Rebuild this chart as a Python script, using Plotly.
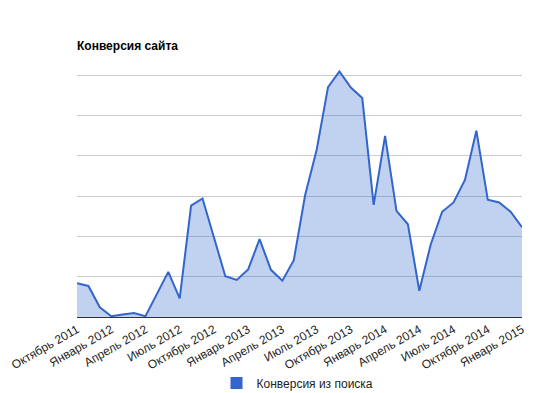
import plotly.graph_objects as go

months = [
    "2011-10", "2011-11", "2011-12", "2012-01", "2012-02", "2012-03", "2012-04", "2012-05",
    "2012-06", "2012-07", "2012-08", "2012-09", "2012-10", "2012-11", "2012-12", "2013-01",
    "2013-02", "2013-03", "2013-04", "2013-05", "2013-06", "2013-07", "2013-08", "2013-09",
    "2013-10", "2013-11", "2013-12", "2014-01", "2014-02", "2014-03", "2014-04", "2014-05",
    "2014-06", "2014-07", "2014-08", "2014-09", "2014-10", "2014-11", "2014-12", "2015-01",
]
conversion = [
    0.84, 0.77, 0.24, 0.02, 0.06, 0.10, 0.02, 0.57, 1.12, 0.46,
    2.76, 2.94, 1.99, 1.01, 0.92, 1.18, 1.93, 1.17, 0.90, 1.41,
    3.03, 4.14, 5.70, 6.09, 5.69, 5.43, 2.78, 4.49, 2.63, 2.30,
    0.65, 1.80, 2.61, 2.84, 3.40, 4.62, 2.91, 2.84, 2.61, 2.23,
]
tick_months = months[::3]
tick_labels = [
    "Октябрь 2011", "Январь 2012", "Апрель 2012", "Июль 2012", "Октябрь 2012",
    "Январь 2013", "Апрель 2013", "Июль 2013", "Октябрь 2013", "Январь 2014",
    "Апрель 2014", "Июль 2014", "Октябрь 2014", "Январь 2015",
]
series_name = "Конверсия из поиска"
title = "Конверсия сайта"

FONT = "Arial, 'Liberation Sans', sans-serif"
Y_TOP = 6.15

# the page body has an 8px margin, so the figure is drawn 8px smaller
W, H = 549, 385
ML, MR, MT, MB = 69, 35, 61, 76
PW = W - ML - MR
PH = H - MT - MB

fig = go.Figure()
fig.add_trace(go.Scatter(
    x=months, y=conversion, mode="lines",
    line=dict(color="#3366cc", width=2),
    fill="tozeroy", fillcolor="rgba(51,102,204,0.3)",
    showlegend=False, hoverinfo="x+y",
))
fig.add_trace(go.Scatter(
    x=[None], y=[None], mode="markers", name=series_name,
    marker=dict(symbol="square", size=12, color="#3366cc"),
))

fig.update_layout(
    width=W, height=H,
    margin=dict(l=ML, r=MR, t=MT, b=MB, autoexpand=False),
    paper_bgcolor="white", plot_bgcolor="white",
    font=dict(family=FONT, size=12, color="#222222"),
    title=dict(text="<b>" + title + "</b>", x=ML / W, xanchor="left",
               y=1 - 38 / H, yanchor="middle",
               font=dict(family=FONT, size=12, color="#000000")),
    xaxis=dict(type="category", range=[0, len(months) - 1], automargin=False,
               tickmode="array", tickvals=tick_months, ticktext=tick_labels,
               tickangle=-30, showgrid=False, zeroline=False,
               showline=True, linecolor="#333333", linewidth=1,
               ticks="", tickfont=dict(size=12, color="#222222")),
    yaxis=dict(range=[0, Y_TOP], dtick=1, showticklabels=False, automargin=False,
               gridcolor="#cccccc", gridwidth=1, zeroline=False, showline=False),
    legend=dict(orientation="h", x=0.5 - 2 / PW, xanchor="center",
                y=-66 / PH, yanchor="middle",
                font=dict(size=12, color="#222222"), itemwidth=30),
)

fig.write_html("out.html")
